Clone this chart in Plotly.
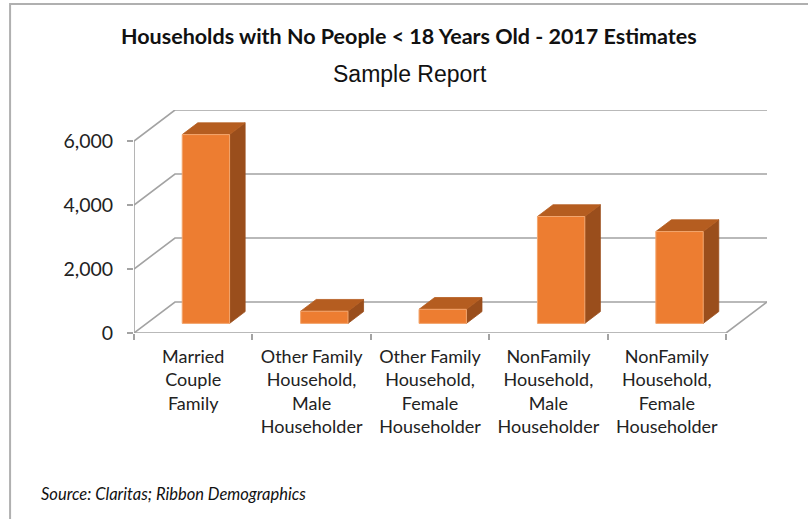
import plotly.graph_objects as go

categories = [
    "Married<br>Couple<br>Family",
    "Other Family<br>Household,<br>Male<br>Householder",
    "Other Family<br>Household,<br>Female<br>Householder",
    "NonFamily<br>Household,<br>Male<br>Householder",
    "NonFamily<br>Household,<br>Female<br>Householder",
]
values = [5900, 380, 440, 3340, 2870]
y_ticks = [0, 2000, 4000, 6000]
y_tick_labels = ["0", "2,000", "4,000", "6,000"]

title = "Households with No People < 18 Years Old - 2017 Estimates"
subtitle = "Sample Report"
source = "Source: Claritas; Ribbon Demographics"

# oblique 3D geometry (in axis units)
DX = 0.346      # depth offset along category axis
DY = 969        # depth offset along value axis
F0, F1 = 0.31, 0.69   # bar depth span (fraction of wall depth)
BW = 0.4        # bar width in category units

FRONT = "#ED7D31"
TOP = "#B55D20"
SIDE = "#9A4E1C"
GRID = "#A3A3A3"

W, H = 808, 519
ML, MT, MB = 134, 110, 186
plot_w = 633.4
MR = W - ML - plot_w
plot_h = H - MT - MB
x0, x1 = -0.5, len(categories) - 0.5
XR = [x0, x1 + DX]
YR = [0, y_ticks[-1] + DY]

fig = go.Figure()

def line(xs, ys, color=GRID, width=1.6):
    fig.add_trace(go.Scatter(x=xs, y=ys, mode="lines", line=dict(color=color, width=width),
                             hoverinfo="skip", showlegend=False, cliponaxis=False))

# walls / gridlines
for v in y_ticks:
    line([x0, x0 + DX, x1 + DX], [v, v + DY, v + DY])
# floor front edge and right edge
line([x0, x1, x1 + DX], [0, 0, DY])
# front value axis
line([x0, x0], [0, y_ticks[-1]])

def poly(xs, ys, fill, lc=None, lw=0.8):
    fig.add_trace(go.Scatter(x=xs + [xs[0]], y=ys + [ys[0]], mode="lines", fill="toself",
                             fillcolor=fill, line=dict(color=lc or fill, width=lw),
                             hoverinfo="skip", showlegend=False, cliponaxis=False))

for i, v in enumerate(values):
    xl = i - BW / 2 + F0 * DX
    xr = i + BW / 2 + F0 * DX
    yb = F0 * DY
    yt = v + F0 * DY
    ddx = (F1 - F0) * DX
    ddy = (F1 - F0) * DY
    poly([xr, xr + ddx, xr + ddx, xr], [yb, yb + ddy, yt + ddy, yt], SIDE)
    poly([xl, xr, xr + ddx, xl + ddx], [yt, yt, yt + ddy, yt + ddy], TOP)
    poly([xl, xr, xr, xl], [yb, yb, yt, yt], FRONT, "#F3A66E", 1)

def px_to_paper(px, py):
    return (px - ML) / plot_w, (H - MB - py) / plot_h

bx0, by0 = px_to_paper(10, 4)
bx1, by1 = px_to_paper(830, 540)
fig.add_shape(type="rect", xref="paper", yref="paper", x0=bx0, y0=by1, x1=bx1, y1=by0,
              line=dict(color="#B0B0B0", width=2), fillcolor="rgba(0,0,0,0)", layer="below")

tx, ty = px_to_paper(409, 36)
fig.add_annotation(x=tx, y=ty, xref="paper", yref="paper", text="<b>" + title + "</b>",
                   xanchor="center", yanchor="middle",
                   showarrow=False, font=dict(family="Lato", size=21.5, color="#111"))
sx, sy = px_to_paper(410, 74)
fig.add_annotation(x=sx, y=sy, xref="paper", yref="paper", text=subtitle,
                   xanchor="center", yanchor="middle",
                   showarrow=False, font=dict(family="Liberation Sans", size=23, color="#111"))
qx, qy = px_to_paper(39, 494)
fig.add_annotation(x=qx, y=qy, xref="paper", yref="paper", text="<i>" + source + "</i>",
                   xanchor="left", yanchor="middle",
                   showarrow=False, font=dict(family="Lato", size=16.5, color="#111"))

fig.update_layout(
    width=W, height=H, autosize=False,
    margin=dict(l=ML, r=MR, t=MT, b=MB, pad=0),
    plot_bgcolor="white", paper_bgcolor="white",
    showlegend=False,
    xaxis=dict(range=XR, showgrid=False, zeroline=False, showline=False,
               tickmode="array", tickvals=list(range(len(categories))), ticktext=categories,
               ticks="", tickfont=dict(family="Lato", size=18, color="#222"),
               ticklabelstandoff=11,
               minor=dict(tickvals=[k - 0.5 for k in range(len(categories) + 1)],
                          ticks="outside", ticklen=6, tickcolor=GRID, tickwidth=1.6)),
    yaxis=dict(range=YR, showgrid=False, zeroline=False, showline=False,
               tickmode="array", tickvals=y_ticks, ticktext=y_tick_labels,
               ticks="outside", ticklen=6, tickcolor=GRID, tickwidth=1.6,
               tickfont=dict(family="Lato", size=19.5, color="#222"), ticklabelstandoff=10),
)

fig.write_html("out.html", config={"displayModeBar": False},
               post_script="document.body.style.margin='0px';")
